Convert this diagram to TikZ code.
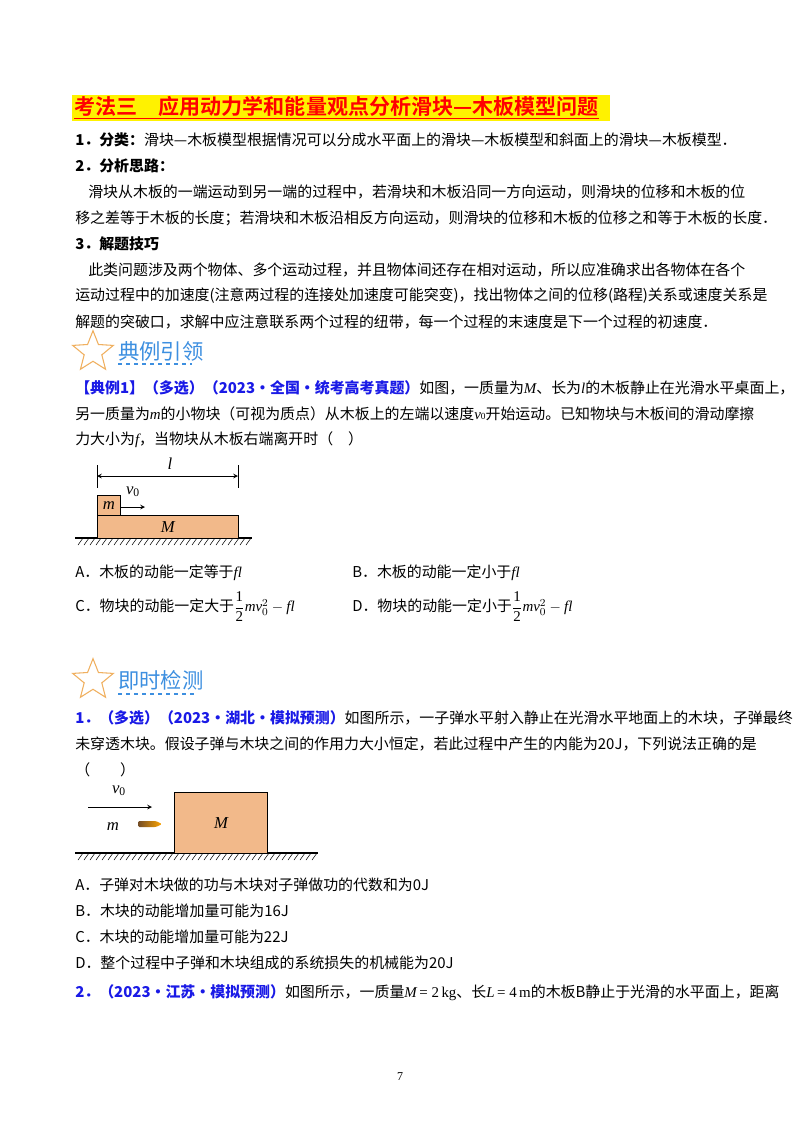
\documentclass[tikz,border=0pt]{standalone}
\usepackage{amsmath}
\usepackage{fontspec}
\setmainfont{Liberation Serif}
\newfontfamily\cjk{Noto Sans CJK SC}
\newfontfamily\cjkb{Noto Sans CJK SC Bold}
\usetikzlibrary{shapes.geometric,patterns}
\definecolor{boxc}{HTML}{F2B98A}
\definecolor{hdr}{HTML}{3D8FE0}
\definecolor{bl}{HTML}{1A1AE6}
\definecolor{stc}{HTML}{F0B060}
\newcommand{\mi}[1]{{\rmfamily\itshape #1}}
\tikzset{
 ln/.style={anchor=west,inner sep=0,font=\cjk\fontsize{11.2}{13}\selectfont},
 hd/.style={anchor=west,inner sep=0,font=\cjk\fontsize{16}{18}\selectfont,text=hdr},
 st/.style={star,star points=5,star point ratio=2.3,draw=stc,thick,minimum size=32,inner sep=0},
 blk/.style={draw,fill=boxc,line width=0.6pt},
 gnd/.style={line width=0.8pt},
 arr/.style={-stealth,line width=0.6pt},
 fl/.style={font=\fontsize{12.5}{14}\selectfont\itshape}
}
\newcommand{\hatchx}[3]{\foreach \hx in {#1,...,#2} {\draw[line width=0.4pt] ({6*\hx+5},#3) -- ({6*\hx},{#3+7});}}
\begin{document}
\begin{tikzpicture}[x=0.75pt,y=-0.75pt]
\useasboundingbox (0,0) rectangle (800,1132);
\fill[white] (0,0) rectangle (800,1132);
% title
\fill[yellow] (72,95) rectangle (610,121);
\node[anchor=west,inner sep=0,text=red,font=\cjkb\fontsize{15.8}{18}\selectfont] (t) at (74,108) {\underline{考法三\quad 应用动力学和能量观点分析滑块—木板模型问题}};
\node[ln] (l1) at (75,140) {\textbf{1．分类：}滑块—木板模型根据情况可以分成水平面上的滑块—木板模型和斜面上的滑块—木板模型．};
\node[ln] (l2) at (75,166) {\textbf{2．分析思路：}};
\node[ln] (l3) at (88,192) {滑块从木板的一端运动到另一端的过程中，若滑块和木板沿同一方向运动，则滑块的位移和木板的位};
\node[ln] (l4) at (75,218) {移之差等于木板的长度；若滑块和木板沿相反方向运动，则滑块的位移和木板的位移之和等于木板的长度．};
\node[ln] (l5) at (75,244) {\textbf{3．解题技巧}};
\node[ln] (l6) at (88,270) {此类问题涉及两个物体、多个运动过程，并且物体间还存在相对运动，所以应准确求出各物体在各个};
\node[ln] (l7) at (75,296) {运动过程中的加速度(注意两过程的连接处加速度可能突变)，找出物体之间的位移(路程)关系或速度关系是};
\node[ln] (l8) at (75,322) {解题的突破口，求解中应注意联系两个过程的纽带，每一个过程的末速度是下一个过程的初速度．};
% header 1
\node[st] (s1) at (93,352) {};
\node[hd] (h1) at (118,351) {典例引领};
\draw[hdr,dashed,line width=1pt] (118,364) -- (192,364);
\node[ln] (e1) at (75,388) {\textcolor{bl}{\textbf{【典例1】（多选）（2023·全国·统考高考真题）}}如图，一质量为\mi{M}、长为\mi{l}的木板静止在光滑水平桌面上，};
\node[ln] (e2) at (75,414) {另一质量为\mi{m}的小物块（可视为质点）从木板上的左端以速度\mi{v}{\rmfamily\scriptsize 0}开始运动。已知物块与木板间的滑动摩擦};
\node[ln] (e3) at (75,440) {力大小为\mi{f}，当物块从木板右端离开时（\quad ）};
% figure 1
\draw[gnd] (75,538) -- (252,538);
\hatchx{13}{41}{538}
\node[blk,fl,minimum width=105.75pt,minimum height=17.25pt,anchor=north west,inner sep=0] (M1) at (97,515) {M};
\node[blk,fl,minimum width=17.25pt,minimum height=15pt,anchor=north west,inner sep=0] (m1) at (97,495) {m};
\coordinate (a1) at (145,507);
\draw[arr] (m1.east |- a1) -- (a1);
\node[fl] (v1) at (133,492) {v\textsubscript{\upshape 0}};
\draw (97,465) -- (97,488); \draw (238,465) -- (238,488);
\coordinate (d1) at (97,476); \coordinate (d2) at (238,476);
\draw[stealth-stealth,line width=0.6pt] (d1) -- (d2);
\node[fl] (lab) at (170,464) {l};
\node[ln] (o1) at (75,573) {A．木板的动能一定等于\mi{fl}};
\node[ln] (o2) at (352,573) {B．木板的动能一定小于\mi{fl}};
\node[ln] (o3) at (75,607) {C．物块的动能一定大于$\dfrac{\text{\rmfamily 1}}{\text{\rmfamily 2}}\text{\mi{mv}}_0^2-\text{\mi{fl}}$};
\node[ln] (o4) at (352,607) {D．物块的动能一定小于$\dfrac{\text{\rmfamily 1}}{\text{\rmfamily 2}}\text{\mi{mv}}_0^2-\text{\mi{fl}}$};
% header 2
\node[st] (s2) at (93,680) {};
\node[hd] (h2) at (118,680) {即时检测};
\draw[hdr,dashed,line width=1pt] (118,694) -- (196,694);
\node[ln] (q1) at (75,718) {\textcolor{bl}{\textbf{1．（多选）（2023·湖北·模拟预测）}}如图所示，一子弹水平射入静止在光滑水平地面上的木块，子弹最终};
\node[ln] (q2) at (75,744) {未穿透木块。假设子弹与木块之间的作用力大小恒定，若此过程中产生的内能为20J，下列说法正确的是};
\node[ln] (q3) at (75,770) {（\qquad ）};
% figure 2
\draw[gnd] (75,853) -- (318,853);
\hatchx{13}{52}{853}
\node[blk,fl,minimum width=70pt,minimum height=45.75pt,anchor=north west,inner sep=0] (M2) at (174,792) {M};
\coordinate (b1) at (88,807); \coordinate (b2) at (152,807);
\draw[arr] (b1) -- (b2);
\node[fl] (v2) at (119,791) {v\textsubscript{\upshape 0}};
\node[fl] (m2) at (113,827) {m};
\shade[left color=brown!60!black,right color=orange!70!yellow,rounded corners=1pt] (138,821) -- (156,821) -- (162,824) -- (156,827) -- (138,827) -- cycle;
\node[ln] (p1) at (75,885) {A．子弹对木块做的功与木块对子弹做功的代数和为0J};
\node[ln] (p2) at (75,911) {B．木块的动能增加量可能为16J};
\node[ln] (p3) at (75,937) {C．木块的动能增加量可能为22J};
\node[ln] (p4) at (75,963) {D．整个过程中子弹和木块组成的系统损失的机械能为20J};
\node[ln] (r1) at (75,993) {\textcolor{bl}{\textbf{2．（2023·江苏·模拟预测）}}如图所示，一质量\mi{M}\,{\rmfamily = 2\,kg}、长\mi{L}\,{\rmfamily = 4\,m}的木板B静止于光滑的水平面上，距离};
\node[inner sep=0,font=\small] (pg) at (400,1077) {7};
\end{tikzpicture}
\end{document}
